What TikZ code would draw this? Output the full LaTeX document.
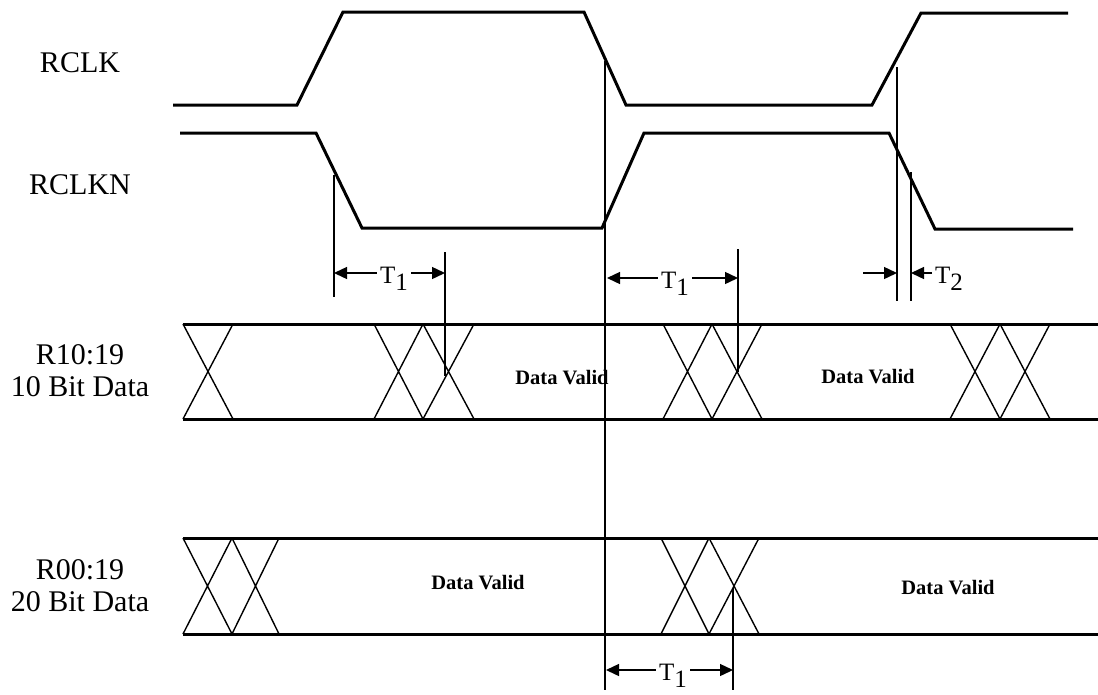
\documentclass[tikz,border=0pt]{standalone}
\usepackage{fontspec}
\setmainfont{Liberation Serif}
\usetikzlibrary{arrows.meta}
\begin{document}
\begin{tikzpicture}[x=1pt,y=-1pt,
  wave/.style={line width=3pt, line join=miter},
  bus/.style={line width=3pt},
  xing/.style={line width=1.4pt},
  guide/.style={line width=1.5pt},
  dim/.style={line width=1.4pt,-{Triangle[length=13pt,width=12pt]}},
  siglabel/.style={font=\fontsize{30}{32}\selectfont, align=center},
  valid/.style={font=\fontsize{20.5}{24}\selectfont\bfseries},
  tlabel/.style={font=\fontsize{25}{28}\selectfont, inner sep=3pt}]
\useasboundingbox (0,0) rectangle (1098,694);
% signal labels
\node[siglabel] (lclk) at (80,63) {RCLK};
\node[siglabel] (lclkn) at (80,185) {RCLKN};
\node[siglabel] (lb10) at (80,371) {R10:19\\10 Bit Data};
\node[siglabel] (lb20) at (80,586) {R00:19\\20 Bit Data};
% clocks
\draw[wave] (173,105) -- (297,105) -- (343,12) -- (584,12) -- (626,105) -- (872,105) -- (921,13) -- (1068,13);
\draw[wave] (180,133) -- (316,133) -- (362,228) -- (602,228) -- (644,133) -- (889,133) -- (935,229) -- (1073,229);
% buses
\draw[bus] (183,324) -- (1098,324) (183,419) -- (1098,419);
\foreach \a/\b in {183/233, 374/423, 423/474, 663/712, 712/762, 950/1000, 1000/1050}
  \draw[xing] (\a,324) -- (\b,419) (\b,324) -- (\a,419);
\draw[bus] (183,538) -- (1098,538) (183,634) -- (1098,634);
\foreach \a/\b in {183/232, 232/279, 661/709, 709/759}
  \draw[xing] (\a,538) -- (\b,634) (\b,538) -- (\a,634);
\node[valid] (dv1) at (562,378) {Data Valid};
\node[valid] (dv2) at (868,377) {Data Valid};
\node[valid] (dv3) at (478,583) {Data Valid};
\node[valid] (dv4) at (948,588) {Data Valid};
% guide lines
\coordinate (g1a) at (334,175); \coordinate (g1b) at (334,297);
\coordinate (g2a) at (445,252); \coordinate (g2b) at (445,376);
\coordinate (g3a) at (605,61);  \coordinate (g3b) at (605,690);
\coordinate (g4a) at (738,249); \coordinate (g4b) at (738,372);
\coordinate (g5a) at (897,67);  \coordinate (g5b) at (897,301);
\coordinate (g6a) at (911,172); \coordinate (g6b) at (911,301);
\coordinate (g7a) at (733,588); \coordinate (g7b) at (733,690);
\foreach \g in {1,...,7} \draw[guide] (g\g a) -- (g\g b);
% T1 row 1
\coordinate (d1l) at (334,273); \coordinate (d1r) at (445,273);
\node[tlabel] (t1a) at (394,279) {T\raisebox{-7pt}{1}};
\draw[dim] (t1a.west |- d1l) -- (d1l);
\draw[dim] (t1a.east |- d1r) -- (d1r);
% T1 row 2
\coordinate (d2l) at (607,278); \coordinate (d2r) at (738,278);
\node[tlabel] (t1b) at (675,284) {T\raisebox{-7pt}{1}};
\draw[dim] (t1b.west |- d2l) -- (d2l);
\draw[dim] (t1b.east |- d2r) -- (d2r);
% T1 row 3
\coordinate (d3l) at (606,670); \coordinate (d3r) at (733,670);
\node[tlabel] (t1c) at (673,676) {T\raisebox{-7pt}{1}};
\draw[dim] (t1c.west |- d3l) -- (d3l);
\draw[dim] (t1c.east |- d3r) -- (d3r);
% T2
\coordinate (d4s) at (863,273); \coordinate (d4l) at (897,273); \coordinate (d4r) at (911,273);
\node[tlabel,anchor=west] (t2) at (932,279) {T\raisebox{-7pt}{2}};
\draw[dim] (d4s) -- (d4l);
\draw[dim] (t2.west |- d4r) -- (d4r);
\end{tikzpicture}
\end{document}
